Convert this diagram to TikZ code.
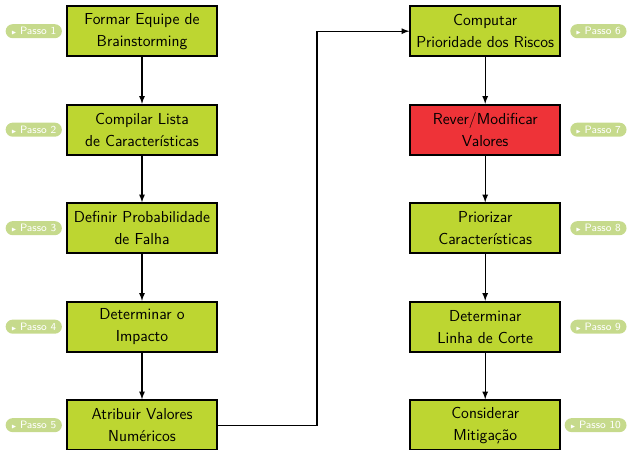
\documentclass[tikz,border=0pt]{standalone}
\usepackage{amssymb}
\usepackage{xcolor}
\usepackage{tikz}
\usetikzlibrary{arrows,positioning}
\definecolor{limao}{HTML}{BDD631}
\definecolor{vermelho}{HTML}{EE3338}
\definecolor{passoverde}{HTML}{C6DA8C}
\tikzset{
	etapa/.style={draw=black, line width=1.2pt, fill=limao, minimum width=3.75cm, minimum height=1.25cm, align=center, inner sep=1pt, font=\sffamily\fontsize{11.3}{15.6}\selectfont},
	passo/.style={fill=passoverde, text=white, rounded corners=5pt, minimum height=10pt, inner xsep=4pt, inner ysep=1pt, font=\sffamily\fontsize{7.6}{9}\selectfont},
	seta/.style={-latex, line width=0.9pt}
}
\newcommand{\passolabel}[1]{\scalebox{0.55}{$\blacktriangleright$}\hspace{2.5pt}Passo #1}

\begin{document}
\begin{tikzpicture}[node distance=1.17cm]
	\useasboundingbox (0,0) rectangle (15.7,-11.225);
	\coordinate (borda) at (15.67,0);
	% coluna da esquerda
	\node[etapa] (equipe) at (3.55,-0.78) {Formar Equipe de\\Brainstorming};
	\node[etapa, below=of equipe] (lista) {Compilar Lista\\de Caracter\'isticas};
	\node[etapa, below=of lista] (falha) {Definir Probabilidade\\de Falha};
	\node[etapa, below=of falha] (impacto) {Determinar o\\Impacto};
	\node[etapa, below=of impacto] (valores) {Atribuir Valores\\Num\'ericos};
	% coluna da direita
	\node[etapa] (riscos) at (12.13,-0.78) {Computar\\Prioridade dos Riscos};
	\node[etapa, fill=vermelho, below=of riscos] (rever) {Rever/Modificar\\Valores};
	\node[etapa, below=of rever] (priorizar) {Priorizar\\Caracter\'isticas};
	\node[etapa, below=of priorizar] (corte) {Determinar\\Linha de Corte};
	\node[etapa, below=of corte] (mitigacao) {Considerar\\Mitiga\c{c}\~ao};
	% passos
	\node[passo, left=0.1cm of equipe] (p1) {\passolabel{1}};
	\node[passo, left=0.1cm of lista] (p2) {\passolabel{2}};
	\node[passo, left=0.1cm of falha] (p3) {\passolabel{3}};
	\node[passo, left=0.1cm of impacto] (p4) {\passolabel{4}};
	\node[passo, left=0.1cm of valores] (p5) {\passolabel{5}};
	\node[passo, anchor=east] (p6) at (riscos -| borda) {\passolabel{6}};
	\node[passo, anchor=east] (p7) at (rever -| borda) {\passolabel{7}};
	\node[passo, anchor=east] (p8) at (priorizar -| borda) {\passolabel{8}};
	\node[passo, anchor=east] (p9) at (corte -| borda) {\passolabel{9}};
	\node[passo, anchor=east] (p10) at (mitigacao -| borda) {\passolabel{10}};
	% setas
	\draw[seta] (equipe) -- (lista);
	\draw[seta] (lista) -- (falha);
	\draw[seta] (falha) -- (impacto);
	\draw[seta] (impacto) -- (valores);
	\draw[seta] (valores.east) -- ++(2.48,0) |- (riscos.west);
	\draw[seta] (riscos) -- (rever);
	\draw[seta] (rever) -- (priorizar);
	\draw[seta] (priorizar) -- (corte);
	\draw[seta] (corte) -- (mitigacao);
\end{tikzpicture}
\end{document}
